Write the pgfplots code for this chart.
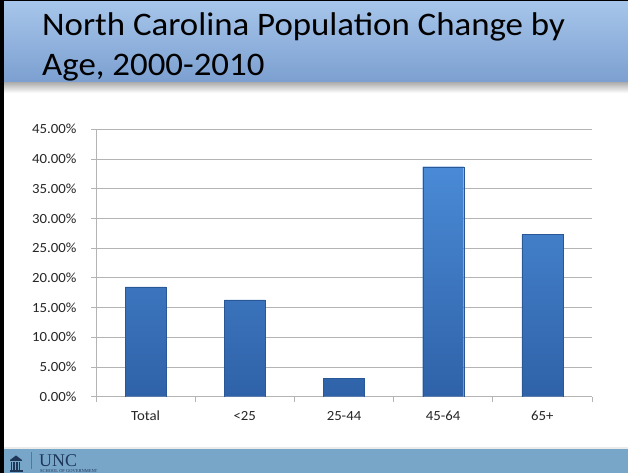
\documentclass[border=0pt]{standalone}
\usepackage{pgfplots}
\pgfplotsset{compat=1.18}
\usepackage{fontspec}
\setmainfont{Carlito}
\newfontfamily\uncfont{Liberation Serif}

\definecolor{titletop}{HTML}{A6C5EA}
\definecolor{titlebot}{HTML}{7B9FD0}
\definecolor{footband}{HTML}{78A6C9}
\definecolor{bartop}{HTML}{4A8AD6}
\definecolor{barbot}{HTML}{2F62A8}
\definecolor{gridgray}{HTML}{B4B4B4}
\definecolor{uncnavy}{HTML}{1E3658}

% the slide is a little wider than its fonts
\newcommand{\wide}[1]{\scalebox{1.06}[1]{#1}}

\begin{document}
\begin{tikzpicture}[x=1bp,y=1bp]
\useasboundingbox (0,0) rectangle (628,473);
\fill[white] (0,0) rectangle (628,473);

% title band
\shade[top color=titletop,bottom color=titlebot] (0,390) rectangle (628,471);
\shade[top color=black!30,bottom color=white] (0,380) rectangle (628,390);
\node[anchor=base west,inner sep=0,font=\fontsize{33}{36}\selectfont] at (42,437) {\wide{North Carolina Population Change by}};
\node[anchor=base west,inner sep=0,font=\fontsize{33}{36}\selectfont] at (42,397) {\wide{Age, 2000-2010}};

% footer band
\fill[black!8] (0,24) rectangle (628,26);
\fill[footband] (0,0) rectangle (628,24);
\begin{scope}[uncnavy]
  \fill (10,13) -- (16,17.5) -- (22,13) -- cycle;
  \fill (10,11.5) rectangle (22,12.5);
  \foreach \cx in {10.5,13.3,16.1,18.9} {\fill (\cx,2.5) rectangle ++(1.5,8.5);}
  \fill (9.5,1) rectangle (22.5,2.5);
\end{scope}
\draw[uncnavy!70,line width=0.5bp] (31,4) -- (31,21);
\node[anchor=base west,inner sep=0,text=uncnavy,font=\uncfont\fontsize{18}{18}\selectfont] at (39,6.3) {UNC};
\node[anchor=base west,inner sep=0,text=uncnavy,font=\uncfont\fontsize{4.5}{5}\selectfont] at (40,0.3) {SCHOOL OF GOVERNMENT};

% slide border
\fill[black] (0,0) rectangle (3.5,473);
\fill[black] (0,471.5) rectangle (628,473);

\begin{axis}[
  at={(96bp,76.3bp)}, anchor=south west,
  scale only axis, width=496bp, height=267.4bp,
  xmin=-0.5, xmax=4.5, ymin=0, ymax=45,
  axis lines=left,
  axis line style={-, draw=gridgray, line width=0.75bp},
  ymajorgrids, grid style={gridgray, line width=0.75bp},
  ytick={0,5,...,45},
  yticklabel={\wide{\pgfmathprintnumber[fixed,fixed zerofill,precision=2]{\tick}\%}},
  yticklabel style={xshift=-11bp},
  /pgf/number format/assume math mode=true,
  xtick={0,...,4},
  xticklabels={\wide{Total},\wide{<25},\wide{25-44},\wide{45-64},\wide{65+}},
  xticklabel style={yshift=-6bp},
  minor xtick={-0.5,0.5,...,4.5},
  tick align=outside,
  major tick length=5bp, minor tick length=5bp,
  tick style={gridgray, line width=0.75bp},
  major x tick style={draw=none},
  every tick label/.append style={font=\fontsize{14}{16}\selectfont, text=black!85},
]
\addplot[ybar, bar width=41bp, draw=barbot!90!black, line width=0.3bp,
  top color=bartop, bottom color=barbot] coordinates {
  (0,18.5) (1,16.3) (2,3.1) (3,38.7) (4,27.3)
};
\end{axis}
\end{tikzpicture}
\end{document}
